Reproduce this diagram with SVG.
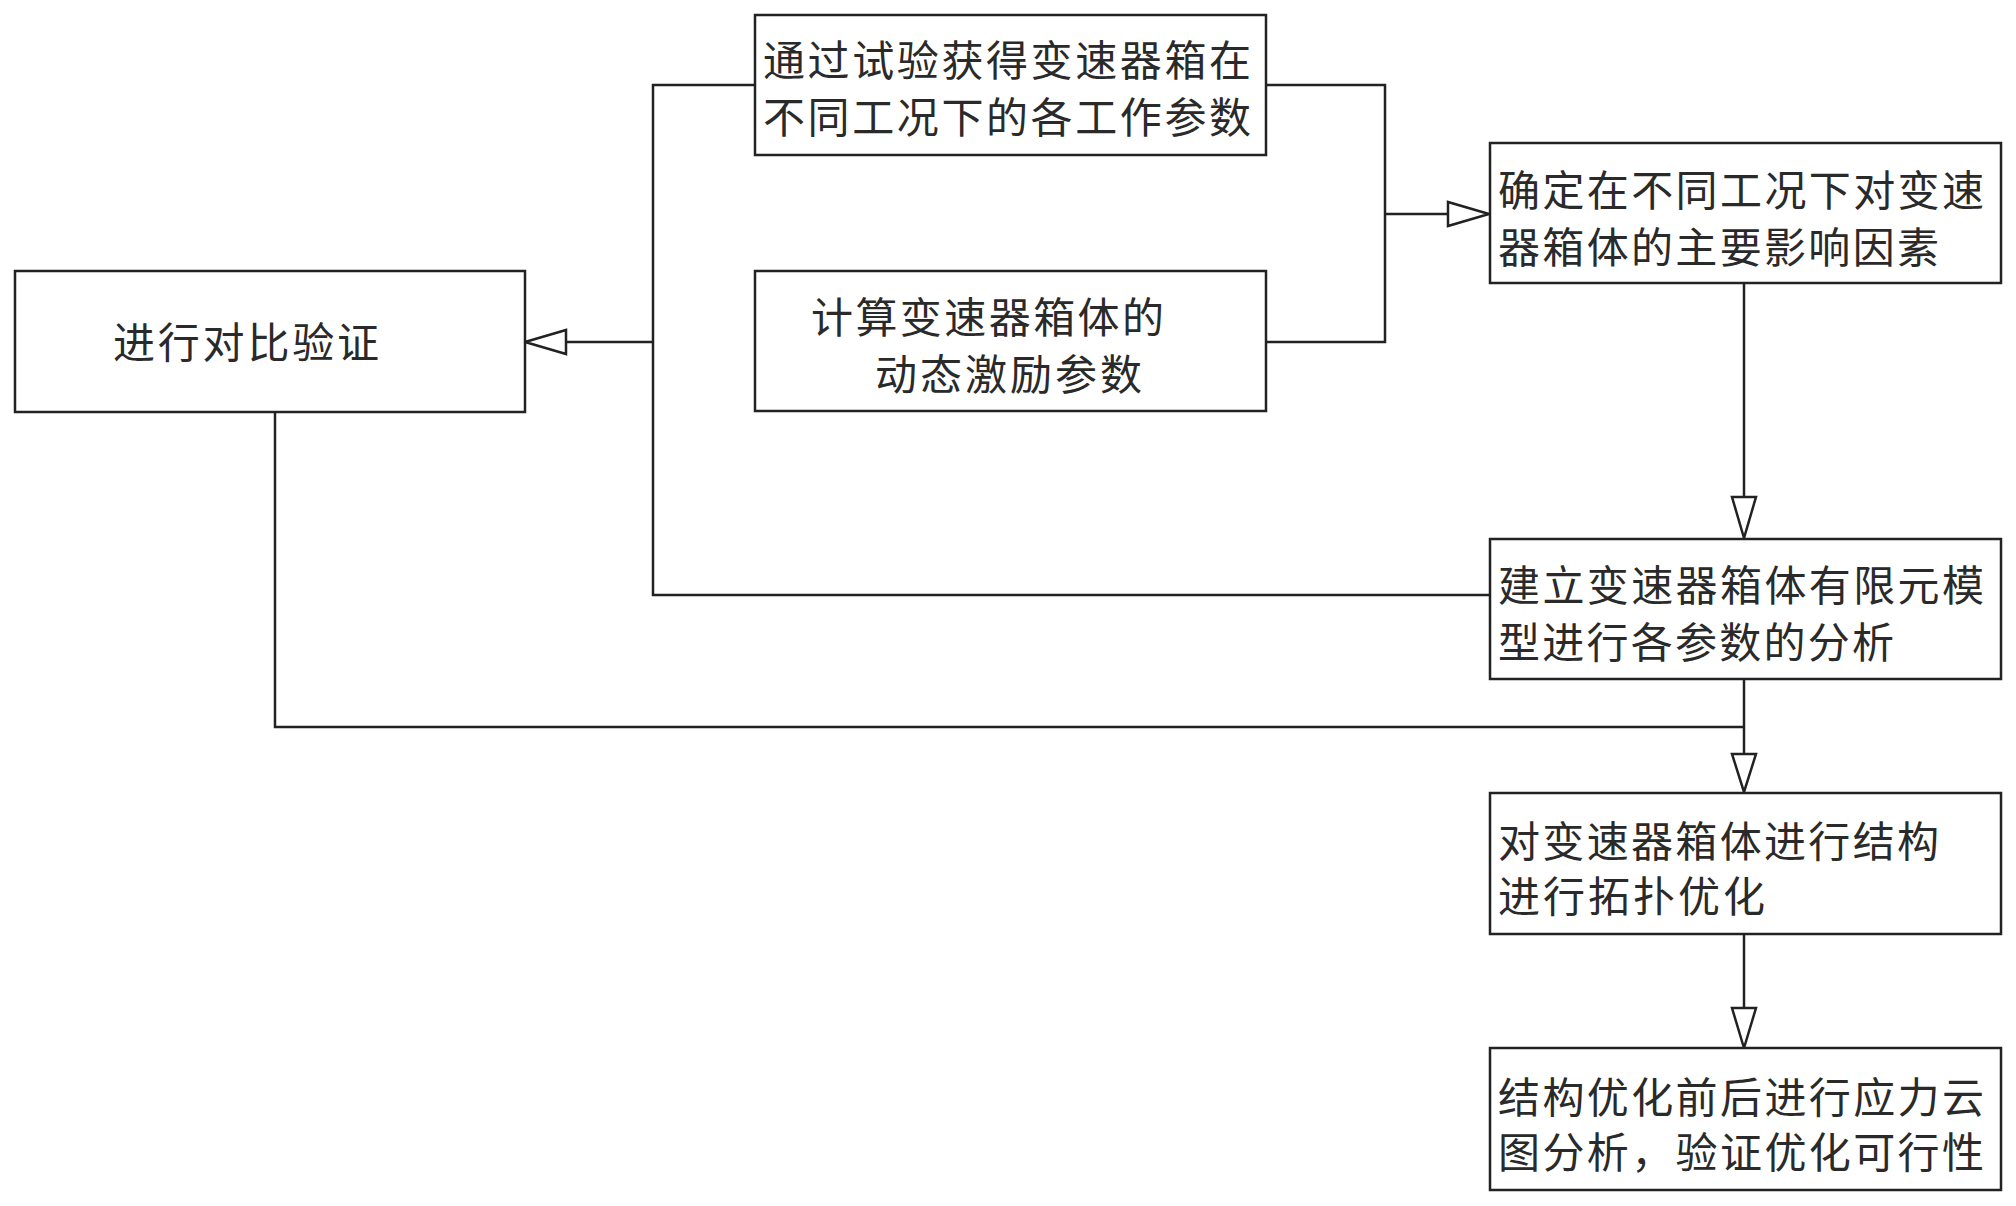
<svg xmlns="http://www.w3.org/2000/svg" width="2016" height="1206" viewBox="0 0 2016 1206">
<defs>
<style>
.box{fill:#fff;stroke:#222;stroke-width:2.5}
.ln{fill:none;stroke:#222;stroke-width:2.5}
.ah{fill:#fff;stroke:#222;stroke-width:2.5;stroke-linejoin:miter}
text{font-family:"Noto Sans CJK SC","Noto Sans CJK TC",sans-serif;font-size:42px;fill:#2a2a2a}
</style>
</defs>
<rect width="2016" height="1206" fill="#fff"/>
<g id="connectors">
<polyline class="ln" points="755,85 653,85 653,595 1490,595"/>
<line class="ln" x1="653" y1="342" x2="566" y2="342"/>
<polygon class="ah" points="525,342 566,330 566,354"/>
<polyline class="ln" points="1266,85 1385,85 1385,342 1266,342"/>
<line class="ln" x1="1385" y1="214" x2="1448" y2="214"/>
<polygon class="ah" points="1489,214 1448,202 1448,226"/>
<line class="ln" x1="1744" y1="283" x2="1744" y2="497"/>
<polygon class="ah" points="1744,538 1732,497 1756,497"/>
<polyline class="ln" points="275,412 275,727 1744,727"/>
<line class="ln" x1="1744" y1="679" x2="1744" y2="754"/>
<polygon class="ah" points="1744,792 1732,754 1756,754"/>
<line class="ln" x1="1744" y1="934" x2="1744" y2="1008"/>
<polygon class="ah" points="1744,1048 1732,1008 1756,1008"/>
</g>
<g id="node-compare">
<rect class="box" x="15" y="271" width="510" height="141"/>
<text x="113" y="358" textLength="266" lengthAdjust="spacing">进行对比验证</text>
</g>
<g id="node-test">
<rect class="box" x="755" y="15" width="511" height="140"/>
<text x="763" y="76" textLength="488" lengthAdjust="spacing">通过试验获得变速器箱在</text>
<text x="763" y="133" textLength="488" lengthAdjust="spacing">不同工况下的各工作参数</text>
</g>
<g id="node-calc">
<rect class="box" x="755" y="271" width="511" height="140"/>
<text x="811" y="333" textLength="353" lengthAdjust="spacing">计算变速器箱体的</text>
<text x="875" y="390" textLength="267" lengthAdjust="spacing">动态激励参数</text>
</g>
<g id="node-factor">
<rect class="box" x="1490" y="143" width="511" height="140"/>
<text x="1498" y="206" textLength="486" lengthAdjust="spacing">确定在不同工况下对变速</text>
<text x="1498" y="263" textLength="441" lengthAdjust="spacing">器箱体的主要影响因素</text>
</g>
<g id="node-fem">
<rect class="box" x="1490" y="539" width="511" height="140"/>
<text x="1498" y="601" textLength="486" lengthAdjust="spacing">建立变速器箱体有限元模</text>
<text x="1498" y="658" textLength="396" lengthAdjust="spacing">型进行各参数的分析</text>
</g>
<g id="node-topo">
<rect class="box" x="1490" y="793" width="511" height="141"/>
<text x="1498" y="857" textLength="441" lengthAdjust="spacing">对变速器箱体进行结构</text>
<text x="1498" y="912" textLength="267" lengthAdjust="spacing">进行拓扑优化</text>
</g>
<g id="node-stress">
<rect class="box" x="1490" y="1048" width="511" height="142"/>
<text x="1498" y="1113" textLength="486" lengthAdjust="spacing">结构优化前后进行应力云</text>
<text x="1498" y="1168" textLength="486" lengthAdjust="spacing">图分析，验证优化可行性</text>
</g>
</svg>
